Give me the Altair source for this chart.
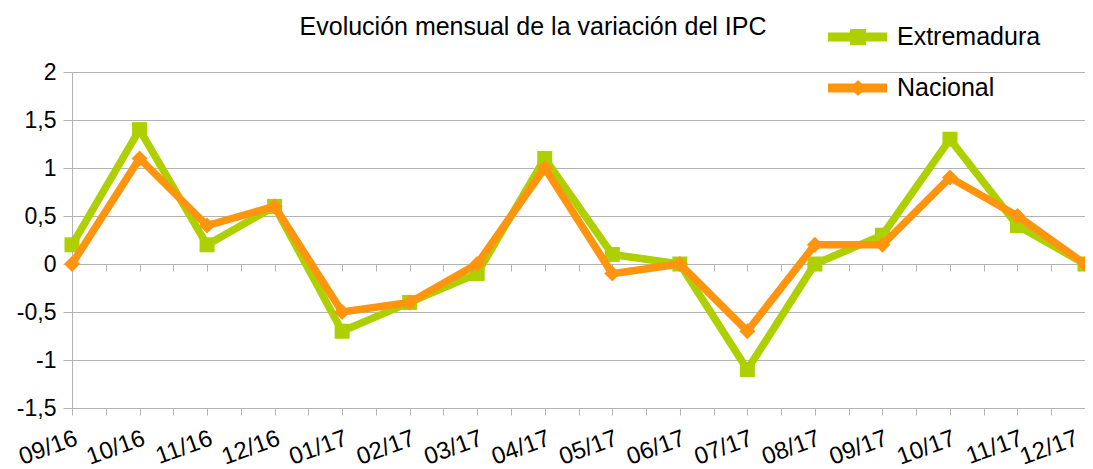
import altair as alt
import pandas as pd

# ---- data ----
meses = ["09/16", "10/16", "11/16", "12/16", "01/17", "02/17", "03/17", "04/17",
         "05/17", "06/17", "07/17", "08/17", "09/17", "10/17", "11/17", "12/17"]
extremadura = [0.2, 1.4, 0.2, 0.6, -0.7, -0.4, -0.1, 1.1, 0.1, 0, -1.1, 0, 0.3, 1.3, 0.4, 0]
nacional = [0, 1.1, 0.4, 0.6, -0.5, -0.4, 0, 1.0, -0.1, 0, -0.7, 0.2, 0.2, 0.9, 0.5, 0]
series = ["Extremadura", "Nacional"]
colores = ["#aecf00", "#ff950e"]
formas = ["square", "diamond"]
y_ticks = [-1.5, -1, -0.5, 0, 0.5, 1, 1.5, 2]
titulo = "Evolución mensual de la variación del IPC"

FONT = "Liberation Sans"
GRID = "#b3b3b3"
W, H = 1013, 336
Y_MIN, Y_MAX = y_ticks[0], y_ticks[-1]
LEG_Y = [-35, 16]          # legend rows (pixels, relative to plot top)

rows = []
for i, m in enumerate(meses):
    rows.append({"idx": i, "mes": m, "serie": series[0], "valor": extremadura[i]})
    rows.append({"idx": i, "mes": m, "serie": series[1], "valor": nacional[i]})
df = pd.DataFrame(rows)

last = len(meses) - 1
x_tick_vals = [k / 2 for k in range(2 * last + 1)]
js_labels = "[" + ",".join("'" + m + "'" for m in meses) + "]"
x_label_expr = f"datum.value % 1 === 0 ? {js_labels}[datum.value] : ''"

x_scale = alt.Scale(domain=[0, last], nice=False, zero=False)
y_scale = alt.Scale(domain=[Y_MIN, Y_MAX], nice=False, zero=False)
color_scale = alt.Scale(domain=series, range=colores)
shape_scale = alt.Scale(domain=series, range=formas)

x_axis_main = alt.Axis(values=x_tick_vals, labelExpr=x_label_expr, title=None, grid=False,
                       orient="bottom", labelAngle=340, labelAlign="right", labelBaseline="top",
                       labelFontSize=24, labelFont=FONT, labelColor="black", labelPadding=11,
                       labelOffset={"condition": {"test": f"datum.value === {last}", "value": -12}, "value": 0},
                       tickSize=7, tickColor=GRID, domainColor=GRID, labelOverlap=False,
                       labelBound=False, labelFlush=False)
y_axis_main = alt.Axis(values=y_ticks, labelExpr="replace(toString(datum.value), '.', ',')",
                       title=None, grid=True, gridColor=GRID, tickSize=9, tickColor=GRID,
                       domainColor=GRID, labelFontSize=23, labelFont=FONT, labelColor="black",
                       labelPadding=7, orient="left")
# tick marks along the zero line
zero_offset = -H * (0 - Y_MIN) / (Y_MAX - Y_MIN)
x_axis_zero = alt.Axis(values=x_tick_vals, labels=False, domain=False, grid=False, title=None,
                       orient="bottom", offset=zero_offset, tickSize=7, tickColor=GRID)

base = alt.Chart(df)
layers = []
for k, s in enumerate(series):
    sub = base.transform_filter(alt.datum.serie == s)
    line = sub.mark_line(strokeWidth=7.5, strokeJoin="miter").encode(
        x=alt.X("idx:Q", scale=x_scale, axis=(x_axis_main if k == 0 else x_axis_zero)),
        y=alt.Y("valor:Q", scale=y_scale, axis=(y_axis_main if k == 0 else None)),
        color=alt.Color("serie:N", scale=color_scale, legend=None),
    )
    pts = sub.mark_point(filled=True, opacity=1, size=(225 if k == 0 else 256)).encode(
        x=alt.X("idx:Q", scale=x_scale, axis=None),
        y=alt.Y("valor:Q", scale=y_scale, axis=None),
        color=alt.Color("serie:N", scale=color_scale, legend=None),
        shape=alt.Shape("serie:N", scale=shape_scale, legend=None),
    )
    layers += [line, pts]

# ---- legend drawn in the upper right ----
for k, s in enumerate(series):
    ley = alt.Chart(pd.DataFrame({"serie": [s]}))
    lc = alt.Color("serie:N", scale=color_scale, legend=None)
    layers.append(ley.mark_rule(strokeWidth=9).encode(
        x=alt.value(756), x2=alt.value(815), y=alt.value(LEG_Y[k]), color=lc))
    layers.append(ley.mark_point(filled=True, opacity=1, size=256).encode(
        x=alt.value(786), y=alt.value(LEG_Y[k]), color=lc,
        shape=alt.Shape("serie:N", scale=shape_scale, legend=None)))
    layers.append(ley.mark_text(align="left", baseline="middle", font=FONT, fontSize=25,
                                color="black").encode(
        x=alt.value(825), y=alt.value(LEG_Y[k]), text="serie:N"))

# ---- title ----
layers.append(alt.Chart(pd.DataFrame({"t": [titulo]})).mark_text(
    align="center", baseline="middle", font=FONT, fontSize=25, color="black").encode(
    x=alt.value(461), y=alt.value(-45), text="t:N"))

chart = alt.layer(*layers).resolve_axis(x="independent", y="independent").properties(
    width=W, height=H,
    autosize=alt.AutoSizeParams(type="none"),
    padding={"left": 64, "top": 64, "right": 0, "bottom": 61},
).configure_view(stroke=GRID, strokeWidth=1)

chart.save("out.html", embed_options={"renderer": "svg", "actions": False})
